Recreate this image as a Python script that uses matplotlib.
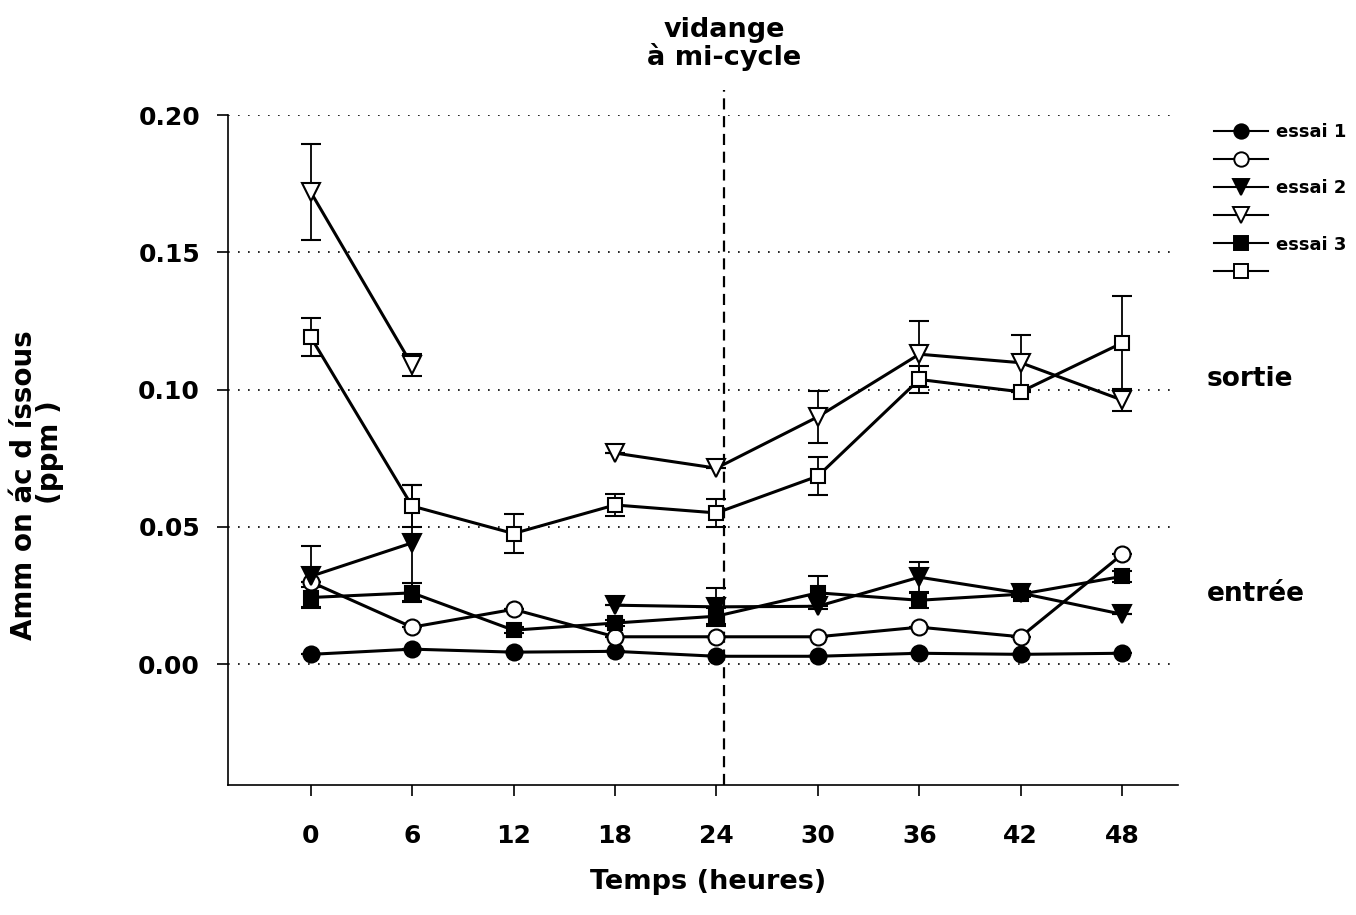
"""
Ammoniac dissous - entree / sortie, 3 essais
"""

import numpy as np
import matplotlib.pyplot as plt
from matplotlib.lines import Line2D

plt.rcParams['font.family'] = ['DejaVu Sans']
plt.rcParams['font.weight'] = 'bold'

# Data (ppm)
hours = [0, 6, 12, 18, 24, 30, 36, 42, 48]
nan = np.nan

essai1_entree = [0.0036, 0.0055, 0.0044, 0.0047, 0.0029, 0.0029, 0.0040, 0.0036, 0.0040]
essai1_sortie = [0.030, 0.0135, 0.020, 0.010, 0.010, 0.010, 0.0135, 0.010, 0.040]
essai2_entree = [0.032, 0.0442, nan, 0.0215, 0.0209, 0.0211, 0.0317, 0.0259, 0.0182]
essai2_sortie = [0.172, 0.1089, nan, 0.0769, 0.0714, 0.0901, 0.1129, 0.1098, 0.0962]
essai3_entree = [0.0243, 0.026, 0.0124, 0.015, 0.0175, 0.026, 0.0233, 0.0255, 0.032]
essai3_sortie = [0.1192, 0.0576, 0.0476, 0.058, 0.0551, 0.0685, 0.1037, 0.0992, 0.117]

err1_entree = [0, 0, 0, 0, 0, 0, 0, 0, 0]
err1_sortie = [0, 0, 0, 0, 0, 0, 0, 0, 0]
err2_entree = [0.011, 0.021, nan, 0, 0.007, 0, 0.0056, 0, 0]
err2_sortie = [0.0175, 0.004, nan, 0, 0, 0.0095, 0.012, 0.010, 0.004]
err3_entree = [0.004, 0.0035, 0.001, 0.001, 0.003, 0.006, 0.003, 0.001, 0.002]
err3_sortie = [0.007, 0.0075, 0.007, 0.004, 0.005, 0.0068, 0.005, 0, 0.017]

legend_labels = ['essai 1', '', 'essai 2', '', 'essai 3', '']
vidange_h = 24.44

series = [
    (essai1_entree, err1_entree, 'o', 'black', 11.5),
    (essai1_sortie, err1_sortie, 'o', 'white', 11.5),
    (essai2_entree, err2_entree, 'v', 'black', 13),
    (essai2_sortie, err2_sortie, 'v', 'white', 13),
    (essai3_entree, err3_entree, 's', 'black', 10.5),
    (essai3_sortie, err3_sortie, 's', 'white', 10.5),
]


def main():
    fig = plt.figure(figsize=(13.56, 9.15), dpi=100)
    ax = fig.add_axes([0.168, 0.142, 0.7007, 0.7323])

    handles = []
    for vals, err, mk, fc, ms in series:
        ax.errorbar(hours, vals, yerr=err, fmt='-', color='black', lw=2.2,
                    marker=mk, mfc=fc, mec='black', mew=1.5, ms=ms,
                    ecolor='black', elinewidth=1.3, capsize=7, capthick=1.3,
                    zorder=3)
        handles.append(Line2D([], [], color='black', lw=1.5, marker=mk,
                              mfc=fc, mec='black', mew=1.4, ms=ms * 0.9))

    # gridlines
    for yv in [0.0, 0.05, 0.10, 0.15, 0.20]:
        ax.axhline(yv, color='black', lw=1.2, ls=(0, (1, 5)), zorder=1)

    # vidange a mi-cycle
    ax.plot([vidange_h, vidange_h], [-0.044, 0.209], color='black', lw=1.6,
            ls=(0, (5, 3)), clip_on=False, zorder=2)
    ax.text(vidange_h, 0.226, 'vidange\nà mi-cycle', ha='center', va='center',
            fontsize=19.5, fontweight='bold', linespacing=1.0)

    ax.set_xlim(-4.9, 51.3)
    ax.set_ylim(-0.044, 0.20)
    ax.set_xticks(hours)
    ax.set_yticks([0.0, 0.05, 0.10, 0.15, 0.20])
    ax.set_yticklabels(['0.00', '0.05', '0.10', '0.15', '0.20'])
    ax.tick_params(labelsize=18, length=8, width=1.2)
    ax.tick_params(axis='y', pad=12)
    ax.tick_params(axis='x', pad=20)
    for lab in ax.get_xticklabels() + ax.get_yticklabels():
        lab.set_fontweight('bold')
    ax.spines['top'].set_visible(False)
    ax.spines['right'].set_visible(False)
    ax.spines['left'].set_linewidth(1.2)
    ax.spines['bottom'].set_linewidth(1.2)

    ax.text(53.0, 0.104, 'sortie', fontsize=19, fontweight='bold',
            va='center', ha='left', clip_on=False)
    ax.text(53.0, 0.0255, 'entrée', fontsize=19, fontweight='bold',
            va='center', ha='left', clip_on=False)

    fig.text(708 / 1356, 1 - 882 / 915, 'Temps (heures)', ha='center',
             va='center', fontsize=19.5, fontweight='bold')
    fig.text(24 / 1356, 1 - 485 / 915, 'Amm on ác d íssous', rotation=90,
             ha='center', va='center', fontsize=20, fontweight='bold')
    fig.text(50 / 1356, 1 - 452 / 915, '(ppm )', rotation=90,
             ha='center', va='center', fontsize=20, fontweight='bold')

    fig.legend(handles, legend_labels, loc='upper left',
               bbox_to_anchor=(1198 / 1356, 1 - 107 / 915), frameon=False,
               prop={'size': 13, 'weight': 'bold'}, handlelength=3.0,
               labelspacing=0.56, handletextpad=0.4)

    plt.savefig('out.png', dpi=100)


if __name__ == "__main__":
    main()
